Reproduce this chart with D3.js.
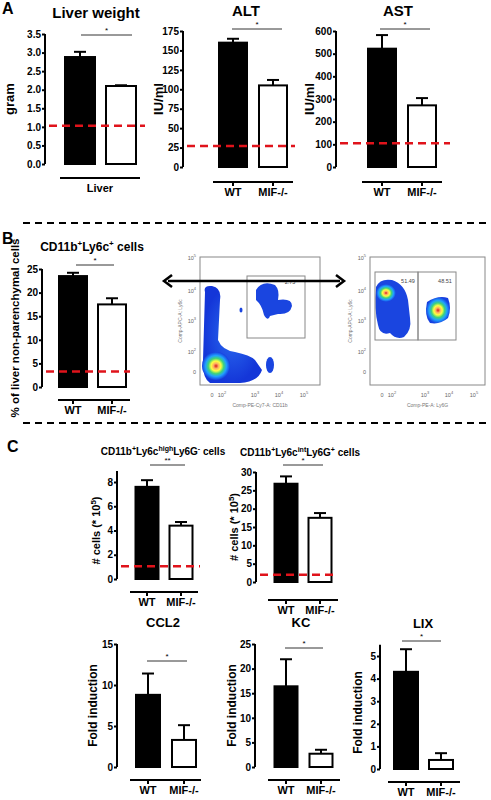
<!DOCTYPE html><html><head><meta charset="utf-8">
<script src="https://cdn.jsdelivr.net/npm/d3@7"></script>
<style>body{margin:0;background:#fff}text{font-family:"Liberation Sans",Arial,sans-serif}</style></head><body>
<svg id="s" width="491" height="800"></svg>
<script>
const groups=["WT","MIF-/-"];
const liverWeight=[2.88,2.1], liverWeightErr=[0.14,0.02];
const altVals=[160,105], altErr=[5,7];
const astVals=[522,272], astErr=[60,32];
const ly6cVals=[23.5,17.5], ly6cErr=[0.7,1.3];
const highVals=[7.6,4.4], highErr=[0.55,0.3];
const intVals=[26.8,17.5], intErr=[2,1.3];
const ccl2Vals=[8.8,3.3], ccl2Err=[2.6,1.8];
const kcVals=[16.4,2.7], kcErr=[5.5,0.8];
const lixVals=[4.3,0.4], lixErr=[1,0.3];
const baselines={lw:1.03,alt:27,ast:105,ly6c:3.3,high:1.05,int:2};

const svg=d3.select("#s");
const F='"Liberation Sans",Arial,sans-serif';
function chart(o){
  const g=svg.append("g");
  const y=d3.scaleLinear().domain([0,o.max]).range([o.y0,o.y1]);
  const x=d3.scaleOrdinal().domain(groups).range(o.bx);
  const ax=g.append("g").attr("transform",`translate(${o.ax},0)`).call(d3.axisLeft(y).tickValues(o.ticks).tickSize(3).tickFormat(o.fmt||d3.format("")));
  ax.select(".domain").attr("stroke-width",2).attr("d",`M0,${y(0)}V${o.ytop!=null?y(o.ytop):o.y1}`);
  ax.selectAll(".tick line").attr("stroke-width",2);
  ax.selectAll("text").attr("font-size",o.tfs||10).attr("font-weight","bold").attr("font-family",F).attr("x",-4);
  o.vals.forEach((v,i)=>{
    const cx=x(groups[i]), w=o.bw, top=y(v+o.err[i]);
    g.append("line").attr("x1",cx).attr("x2",cx).attr("y1",y(v)).attr("y2",top).attr("stroke","#000").attr("stroke-width",2);
    g.append("line").attr("x1",cx-6).attr("x2",cx+6).attr("y1",top).attr("y2",top).attr("stroke","#000").attr("stroke-width",2);
    g.append("rect").attr("x",cx-w/2).attr("width",w).attr("y",y(v)).attr("height",y(0)-y(v))
     .attr("fill",i==0?"#000":"#fff").attr("stroke","#000").attr("stroke-width",2);
  });
  if(o.base!=null) g.append("line").attr("x1",o.ax+4).attr("x2",o.rx).attr("y1",y(o.base)).attr("y2",y(o.base)).attr("stroke","#e0131b").attr("stroke-width",2.5).attr("stroke-dasharray","8,5");
  g.append("line").attr("x1",o.sig[0]).attr("x2",o.sig[1]).attr("y1",o.sig[2]).attr("y2",o.sig[2]).attr("stroke","#000").attr("stroke-width",0.8);
  g.append("text").attr("x",(o.sig[0]+o.sig[1])/2).attr("y",o.sig[2]-2).attr("text-anchor","middle").attr("font-size",8).text(o.star||"*");
  g.append("line").attr("x1",o.xl[0]).attr("x2",o.xl[1]).attr("y1",o.xl[2]).attr("y2",o.xl[2]).attr("stroke","#000").attr("stroke-width",2);
  if(o.liver){g.append("text").attr("x",(o.xl[0]+o.xl[1])/2).attr("y",o.xl[2]+14).attr("text-anchor","middle").attr("font-size",11).attr("font-weight","bold").text("Liver");}
  else groups.forEach((gname,i)=>{
    const cx=x(gname);
    g.append("line").attr("x1",cx).attr("x2",cx).attr("y1",o.xl[2]).attr("y2",o.xl[2]+4).attr("stroke","#000").attr("stroke-width",2);
    g.append("text").attr("x",cx).attr("y",o.xl[2]+14).attr("text-anchor","middle").attr("font-size",11).attr("font-weight","bold").text(gname);
  });
  const yl=g.append("text").attr("transform",`translate(${o.ylx},${(o.y0+o.y1)/2}) rotate(-90)`).attr("text-anchor","middle").attr("font-size",o.ylfs||13).attr("font-weight","bold");
  if(o.ylabelHtml) o.ylabelHtml(yl); else yl.text(o.ylabel);
  if(o.title){const t=g.append("text").attr("x",o.title[1]).attr("y",o.title[2]).attr("text-anchor","middle").attr("font-size",o.title[3]).attr("font-weight","bold");
    if(typeof o.title[0]=="function") o.title[0](t); else t.text(o.title[0]);}
}
const cellsLbl=t=>{t.text("# cells (* 10");t.append("tspan").attr("dy",-4).attr("font-size",8).text("5");t.append("tspan").attr("dy",4).text(")");};
chart({vals:liverWeight,err:liverWeightErr,max:3.5,y0:164,y1:34,ax:45,bx:[80,121],bw:30,ticks:d3.range(0,3.51,0.5),fmt:d3.format(".1f"),base:baselines.lw,rx:145,sig:[81,132,35],xl:[60,140,178],liver:true,ylabel:"gram",ylx:14,title:["Liver weight",96,18,15]});
chart({vals:altVals,err:altErr,max:175,y0:167,y1:31,ax:183,bx:[233,273],bw:28,ticks:d3.range(0,176,25),base:baselines.alt,rx:295,sig:[232,282,29],xl:[213,293,182],ylabel:"IU/ml",ylx:163,title:["ALT",246,16,15]});
chart({vals:astVals,err:astErr,max:600,y0:167,y1:31,ax:336,bx:[382,422],bw:28,ticks:d3.range(0,601,100),base:baselines.ast,rx:450,sig:[380,430,29],xl:[362,442,182],ylabel:"IU/ml",ylx:314,title:["AST",398,16,15]});
chart({vals:ly6cVals,err:ly6cErr,max:25,y0:387,y1:269,ax:42,bx:[73,112],bw:28,ticks:d3.range(0,26,5),base:baselines.ly6c,rx:130,sig:[76,114,265],xl:[58,130,400],ylabel:"% of liver non-parenchymal cells",ylx:19,ylfs:11.5,
  title:[t=>{t.text("CD11b");t.append("tspan").attr("dy",-5).attr("font-size",8).text("+");t.append("tspan").attr("dy",5).text("Ly6c");t.append("tspan").attr("dy",-5).attr("font-size",8).text("+");t.append("tspan").attr("dy",5).text(" cells");},92,251,12]});
const sup=(t,parts)=>parts.forEach(p=>{const s=t.append("tspan").text(p[0]);if(p[1]){s.attr("dy",-4).attr("font-size",7);}else s.attr("dy",t.node().__prev?4:0);t.node().__prev=p[1];});
chart({vals:highVals,err:highErr,max:8,y0:579,y1:482,ytop:8.9,ax:117,bx:[147,181],bw:23,ticks:[0,2,4,6,8],base:baselines.high,rx:200,sig:[150,185,465],star:"**",xl:[130,198,592],ylabelHtml:cellsLbl,ylx:100,ylfs:11,
  title:[t=>sup(t,[["CD11b"],["+",1],["Ly6c"],["high",1],["Ly6G"],["-",1],[" cells"]]),163,455,10]});
chart({vals:intVals,err:intErr,max:30,y0:582,y1:472,ax:256,bx:[286,320],bw:23,ticks:d3.range(0,31,5),base:baselines.int,rx:337,sig:[283,323,465],xl:[268,338,600],ylabelHtml:cellsLbl,ylx:238,ylfs:11,
  title:[t=>sup(t,[["CD11b"],["+",1],["Ly6c"],["int",1],["Ly6G"],["+",1],[" cells"]]),300,456,10]});
chart({vals:ccl2Vals,err:ccl2Err,max:15,y0:767,y1:644,ax:117,bx:[148,184],bw:24,ticks:[0,5,10,15],sig:[147,187,661],xl:[130,201,780],ylabel:"Fold induction",ylx:97,ylfs:12,title:["CCL2",163,627,13]});
chart({vals:kcVals,err:kcErr,max:25,y0:767,y1:644,ax:255,bx:[286,321],bw:23,ticks:d3.range(0,26,5),sig:[285,323,648],xl:[268,340,780],ylabel:"Fold induction",ylx:236,ylfs:12,title:["KC",301,627,13]});
chart({vals:lixVals,err:lixErr,max:5,y0:769,y1:656,ytop:5.5,ax:380,bx:[406,441],bw:24,ticks:[0,1,2,3,4,5],sig:[402,441,641],xl:[388,460,782],ylabel:"Fold induction",ylx:362,ylfs:12,title:["LIX",423,628,13]});

// panel letters
[["A",2,14],["B",2,244],["C",7,452]].forEach(d=>svg.append("text").attr("x",d[1]).attr("y",d[2]).attr("font-family","Liberation Serif,serif").attr("font-weight","bold").attr("font-size",16).text(d[0]));
// separators
[223,423].forEach(yy=>svg.append("line").attr("x1",23).attr("x2",491).attr("y1",yy).attr("y2",yy).attr("stroke","#000").attr("stroke-width",2).attr("stroke-dasharray","7,5"));

// flow cytometry plots (decorative)
const defs=svg.append("defs");
const gr=defs.append("radialGradient").attr("id","heat");
[["0%","#d7191c"],["18%","#fdae61"],["35%","#ffff40"],["55%","#3fd37a"],["75%","#20a0ff"],["100%","#1740e0"]].forEach(s=>gr.append("stop").attr("offset",s[0]).attr("stop-color",s[1]));
const blue=defs.append("radialGradient").attr("id","blue");
[["0%","#2a6cf0"],["100%","#1436d8"]].forEach(s=>blue.append("stop").attr("offset",s[0]).attr("stop-color",s[1]));
function flow(x0,xw,yT,yB,xlab,ylab){
  const g=svg.append("g");
  g.append("rect").attr("x",x0).attr("y",yT).attr("width",xw).attr("height",yB-yT).attr("fill","#fff").attr("stroke","#888").attr("stroke-width",1);
  const yt=[["0",yB-13],["10",yB-33,"2"],["10",yB-64,"3"],["10",yB-94,"4"],["10",yB-127,"5"]];
  yt.forEach(t=>{const tx=g.append("text").attr("x",x0-4).attr("y",t[1]+2).attr("text-anchor","end").attr("font-size",5.5).attr("fill","#666").text(t[0]);if(t[2])tx.append("tspan").attr("dy",-3).attr("font-size",4).text(t[2]);});
  const xt=[["0",x0+12],["10",x0+22,"2"],["10",x0+55,"3"],["10",x0+79,"4"],["10",x0+104,"5"]];
  xt.forEach(t=>{const tx=g.append("text").attr("x",t[1]).attr("y",yB+12).attr("text-anchor","middle").attr("font-size",5.5).attr("fill","#666").text(t[0]);if(t[2])tx.append("tspan").attr("dy",-3).attr("font-size",4).text(t[2]);});
  g.append("text").attr("x",x0+xw/2).attr("y",yB+22).attr("text-anchor","middle").attr("font-size",5).attr("fill","#777").text(xlab);
  g.append("text").attr("transform",`translate(${x0-18},${(yT+yB)/2}) rotate(-90)`).attr("text-anchor","middle").attr("font-size",5).attr("fill","#777").text(ylab);
  return g;
}
const f1=flow(200,120,257,385,"Comp-PE-Cy7-A: CD11b","Comp-APC-A: Ly6c");
f1.append("path").attr("d","M205,292 Q203,285 212,286 Q222,288 220,300 L218,340 Q222,350 235,352 Q250,355 255,360 L262,370 Q258,382 240,383 L210,383 Q202,378 203,360 Z").attr("fill","url(#blue)");
f1.append("ellipse").attr("cx",216).attr("cy",366).attr("rx",14).attr("ry",14).attr("fill","url(#heat)");
f1.append("path").attr("d","M256,290 Q262,280 275,285 Q280,290 278,300 Q292,298 292,306 Q290,315 278,314 L270,316 Q268,322 264,315 Q262,305 256,300 Z").attr("fill","#1a45e0");
f1.append("ellipse").attr("cx",270).attr("cy",365).attr("rx",4).attr("ry",8).attr("fill","#1a45e0");
f1.append("ellipse").attr("cx",241).attr("cy",310).attr("rx",1.5).attr("ry",2.5).attr("fill","#1a45e0");
f1.append("rect").attr("x",247).attr("y",276).attr("width",58).attr("height",62).attr("fill","none").attr("stroke","#888");
f1.append("text").attr("x",290).attr("y",284).attr("text-anchor","middle").attr("font-size",5.5).attr("fill","#444").text("2.75");
const f2=flow(370,115,257,385,"Comp-PE-A: Ly6G","Comp-APC-A: Ly6c");
f2.append("path").attr("d","M376,287 Q380,278 392,280 Q405,284 408,300 L410,318 Q412,330 404,337 Q396,340 390,333 Q380,336 378,325 Q374,310 376,287 Z").attr("fill","#1a45e0");
f2.append("ellipse").attr("cx",386).attr("cy",293).attr("rx",10).attr("ry",9).attr("fill","url(#heat)");
f2.append("path").attr("d","M427,302 Q438,295 448,298 Q452,308 448,318 Q440,325 430,323 Q424,316 427,302 Z").attr("fill","url(#heat)");
f2.append("rect").attr("x",375).attr("y",272).attr("width",43).attr("height",68).attr("fill","none").attr("stroke","#888");
f2.append("rect").attr("x",418).attr("y",272).attr("width",38).attr("height",68).attr("fill","none").attr("stroke","#888");
f2.append("text").attr("x",408).attr("y",283).attr("text-anchor","middle").attr("font-size",5.5).attr("fill","#444").text("51.49");
f2.append("text").attr("x",445).attr("y",283).attr("text-anchor","middle").attr("font-size",5.5).attr("fill","#444").text("48.51");
// arrow
svg.append("line").attr("x1",168).attr("x2",340).attr("y1",281).attr("y2",281).attr("stroke","#000").attr("stroke-width",2.5);
svg.append("path").attr("d","M172,275 L164,281 L172,287 M336,275 L344,281 L336,287").attr("fill","none").attr("stroke","#000").attr("stroke-width",2.5);
</script></body></html>
